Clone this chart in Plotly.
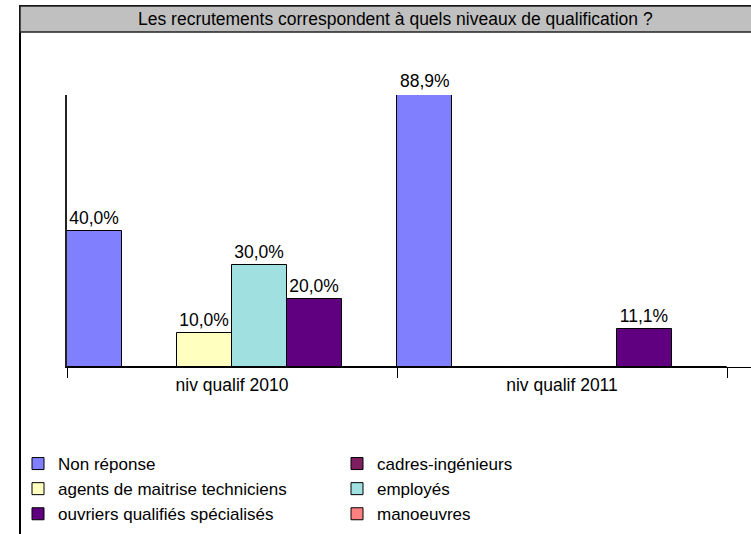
import plotly.graph_objects as go

categories = ["niv qualif 2010", "niv qualif 2011"]
series_names = ["Non réponse", "cadres-ingénieurs", "agents de maitrise techniciens",
                "employés", "ouvriers qualifiés spécialisés", "manoeuvres"]
non_reponse = [0.40, 0.889]
cadres = [0.0, 0.0]
agents = [0.10, 0.0]
employes = [0.30, 0.0]
ouvriers = [0.20, 0.111]
manoeuvres = [0.0, 0.0]
series_values = [non_reponse, cadres, agents, employes, ouvriers, manoeuvres]
colors = ["#8080FF", "#7F1F5F", "#FFFFC0", "#A0E0E0", "#600080", "#FF8080"]
title_text = "Les recrutements correspondent à quels niveaux de qualification ?"
y_max = 0.8

FONT = "Liberation Sans, Arial, sans-serif"
FS = 17.5
W, H = 751, 534
L, R, T, B = 67, 0, 95, 167
pw, ph = W - L - R, H - T - B

def px_x(p):
    return (p - L) / pw

def px_y(p):
    return 1 - (p - T) / ph

def fmt(v):
    return (f"{v*100:.1f}%".replace(".", ",")) if v else ""

fig = go.Figure()
annotations = []
nser = len(series_names)
for si, (name, vals, col) in enumerate(zip(series_names, series_values, colors)):
    fig.add_trace(go.Bar(
        x=categories, y=vals, name=name,
        marker=dict(color=col, line=dict(color="black", width=1)),
        text=[fmt(v) if v <= y_max else "" for v in vals], textposition="outside",
        textfont=dict(family=FONT, size=FS, color="black"),
        cliponaxis=False, hoverinfo="skip",
    ))
    # labels of bars that run past the axis maximum sit on top of the clipped bar
    for ci, v in enumerate(vals):
        if v > y_max:
            annotations.append(dict(
                x=ci - 0.5 + (si + 0.5) / nser, y=y_max, xref="x", yref="y",
                text=fmt(v), showarrow=False, xanchor="center", yanchor="bottom",
                yshift=2, font=dict(family=FONT, size=FS, color="black")))

annotations.append(dict(text=title_text, xref="paper", yref="paper", x=px_x(395), y=px_y(19),
                        xanchor="center", yanchor="middle", showarrow=False,
                        font=dict(family=FONT, size=FS, color="black")))

ncat = len(categories)
fig.update_layout(
    width=W, height=H,
    margin=dict(l=L, r=R, t=T, b=B, pad=0, autoexpand=False),
    paper_bgcolor="white", plot_bgcolor="white",
    barmode="group", bargap=0, bargroupgap=0,
    separators=", ",
    font=dict(family=FONT, size=FS, color="black"),
    showlegend=True,
    legend=dict(orientation="h", x=px_x(18), y=px_y(446), xanchor="left", yanchor="top",
                entrywidth=274, entrywidthmode="pixels", traceorder="normal",
                font=dict(family=FONT, size=17, color="black"),
                bgcolor="rgba(0,0,0,0)", itemclick=False, tracegroupgap=0),
    xaxis=dict(range=[-0.5, -0.5 + ncat * pw / (727 - 67)], showline=True, linecolor="black",
               linewidth=1, ticks="outside", tickson="boundaries", ticklen=10,
               tickcolor="black", tickwidth=1, showgrid=False, zeroline=False,
               ticklabelstandoff=2, automargin=False,
               tickfont=dict(family=FONT, size=FS, color="black")),
    yaxis=dict(range=[0, y_max], showline=True, linecolor="#222", linewidth=2,
               showticklabels=False, ticks="", showgrid=False, zeroline=False,
               automargin=False),
    shapes=[
        dict(type="rect", xref="paper", yref="paper", x0=px_x(20), x1=px_x(770),
             y0=px_y(540), y1=px_y(6), line=dict(color="black", width=2), layer="above"),
        dict(type="rect", xref="paper", yref="paper", x0=px_x(20), x1=px_x(770),
             y0=px_y(32), y1=px_y(6), fillcolor="#C0C0C0", line=dict(color="#222", width=1.5),
             layer="above"),
    ],
    annotations=annotations,
)

fig.write_html("out.html", config={"displayModeBar": False},
               post_script="document.body.style.margin='0';document.body.style.overflow='hidden';")
